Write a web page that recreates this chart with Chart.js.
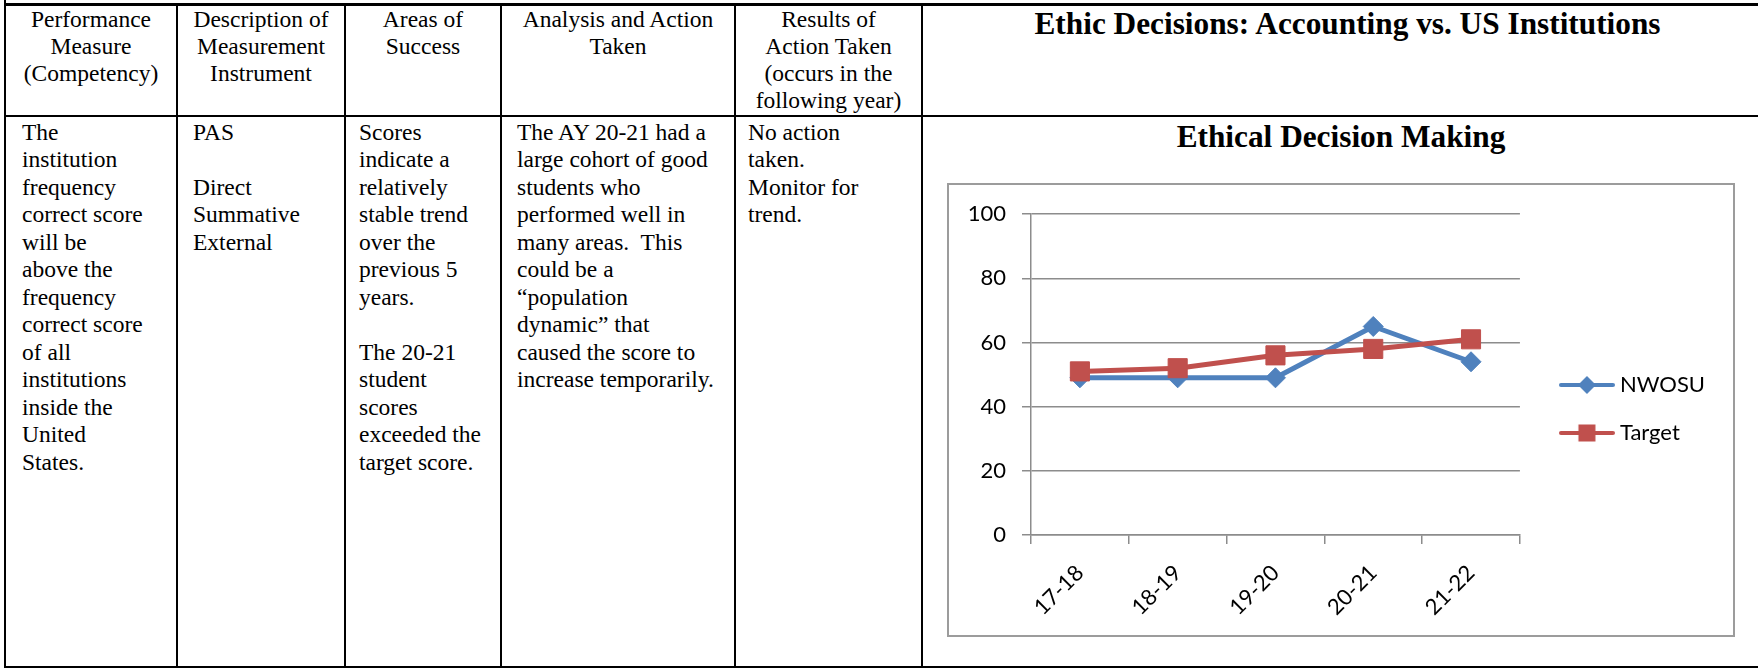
<!DOCTYPE html>
<html>
<head>
<meta charset="utf-8">
<title>Ethic Decisions: Accounting vs. US Institutions</title>
<script src="https://cdn.jsdelivr.net/npm/chart.js@4.4.1/dist/chart.umd.min.js"></script>
<style>
    html, body { margin: 0; padding: 0; background: #fff; }
    body {
        width: 1758px; height: 668px; overflow: hidden; position: relative;
        font-family: "Liberation Serif", "Times New Roman", serif; color: #000;
    }
    .prev-row-edge { position: absolute; left: 4px; top: 0; width: 2px; height: 4px; background: #000; }
    #assessment {
        position: absolute; left: 4px; top: 3px;
        border-collapse: collapse; table-layout: fixed; width: 1770px;
    }
    #assessment th, #assessment td {
        border: 2px solid #000; vertical-align: top;
        font-size: 23.5px; line-height: 27.5px; white-space: nowrap; overflow: hidden;
    }
    #assessment tr.head { height: 111px; }
    #assessment tr.body { height: 551.5px; }
    #assessment th { font-weight: normal; text-align: center; line-height: 27px; padding: 0 2px; border-top-width: 3px; }
    #assessment th.sheet-title { font-weight: bold; font-size: 31.3px; line-height: 36px; padding-top: 0; }
    #assessment td { text-align: left; padding: 2px 2px 0 15px; }
    #assessment td.c1 { padding-left: 16px; }
    #assessment td.c3 { padding-left: 13px; }
    #assessment td.c5 { padding-left: 12px; }
    #chart-title {
        position: absolute; left: 947px; width: 788px; top: 119px; text-align: center;
        font-weight: bold; font-size: 31.3px; line-height: 36px;
    }
    #chart-frame {
        position: absolute; left: 947px; top: 183px; width: 784px; height: 450px;
        border: 2px solid #9c9c9c; background: #fff;
    }
</style>
</head>
<body>
<div class="prev-row-edge"></div>
<table id="assessment">
    <colgroup>
        <col style="width:172px"><col style="width:168px"><col style="width:156px">
        <col style="width:234px"><col style="width:187px"><col style="width:851px">
    </colgroup>
    <tr class="head">
        <th>Performance<br>Measure<br>(Competency)</th>
        <th>Description of<br>Measurement<br>Instrument</th>
        <th>Areas of<br>Success</th>
        <th>Analysis and Action<br>Taken</th>
        <th>Results of<br>Action Taken<br>(occurs in the<br>following year)</th>
        <th class="sheet-title">Ethic Decisions: Accounting vs. US Institutions</th>
    </tr>
    <tr class="body">
        <td class="c1">The<br>institution<br>frequency<br>correct score<br>will be<br>above the<br>frequency<br>correct score<br>of all<br>institutions<br>inside the<br>United<br>States.</td>
        <td class="c2">PAS<br><br>Direct<br>Summative<br>External</td>
        <td class="c3">Scores<br>indicate a<br>relatively<br>stable trend<br>over the<br>previous 5<br>years.<br><br>The 20-21<br>student<br>scores<br>exceeded the<br>target score.</td>
        <td class="c4">The AY 20-21 had a<br>large cohort of good<br>students who<br>performed well in<br>many areas.&nbsp; This<br>could be a<br>“population<br>dynamic” that<br>caused the score to<br>increase temporarily.</td>
        <td class="c5">No action<br>taken.<br>Monitor for<br>trend.</td>
        <td></td>
    </tr>
</table>

<div id="chart-title">Ethical Decision Making</div>
<div id="chart-frame"><canvas id="ethicsChart"></canvas></div>

<script>
// Data
const categories = ['17-18', '18-19', '19-20', '20-21', '21-22'];
const nwosuScores = [49, 49, 49, 65, 54];
const targetScores = [51, 52, 56, 58, 61];
const yTicks = [0, 20, 40, 60, 80, 100];

const NWOSU_BLUE = '#4F81BD';
const TARGET_RED = '#C0504D';
const AXIS_GRAY = '#8c8c8c';
const LEGEND_LIFT = 14.5;

// Excel style legend glyph: a short line with the series marker on it
function makeLegendIcon(color, marker) {
    const icon = document.createElement('canvas');
    icon.width = 56;
    icon.height = 20;
    const ctx = icon.getContext('2d');
    ctx.strokeStyle = color;
    ctx.fillStyle = color;
    ctx.lineWidth = 4;
    ctx.lineCap = 'round';
    ctx.beginPath();
    ctx.moveTo(2, 10);
    ctx.lineTo(54, 10);
    ctx.stroke();
    if (marker === 'diamond') {
        ctx.beginPath();
        ctx.moveTo(28, 1);
        ctx.lineTo(37, 10);
        ctx.lineTo(28, 19);
        ctx.lineTo(19, 10);
        ctx.closePath();
        ctx.fill();
    } else {
        ctx.fillRect(19.5, 1.5, 17, 17);
    }
    return icon;
}

// Excel centres the legend a bit above the middle of the plot frame
const legendLift = {
    id: 'legendLift',
    afterLayout(chart) {
        chart.legend.top -= LEGEND_LIFT;
        chart.legend.bottom -= LEGEND_LIFT;
    }
};

function buildChart() {
    Chart.defaults.font.family = 'Lato, "Open Sans", sans-serif';
    Chart.defaults.font.size = 22;
    Chart.defaults.color = '#000';

    const ctx = document.getElementById('ethicsChart');

    new Chart(ctx.getContext('2d'), {
        type: 'line',
        plugins: [legendLift],
        data: {
            labels: categories,
            datasets: [{
                label: 'NWOSU',
                data: nwosuScores,
                borderColor: NWOSU_BLUE,
                backgroundColor: NWOSU_BLUE,
                borderWidth: 5,
                borderJoinStyle: 'round',
                borderCapStyle: 'round',
                pointStyle: 'rectRot',
                pointRadius: 10,
                pointHoverRadius: 10,
                pointBorderWidth: 1,
                tension: 0,
                order: 2,
                legendIcon: makeLegendIcon(NWOSU_BLUE, 'diamond')
            }, {
                label: 'Target',
                data: targetScores,
                borderColor: TARGET_RED,
                backgroundColor: TARGET_RED,
                borderWidth: 5,
                borderJoinStyle: 'round',
                borderCapStyle: 'round',
                pointStyle: 'rect',
                pointRadius: 13.5,
                pointHoverRadius: 13.5,
                pointBorderWidth: 1,
                tension: 0,
                order: 1,
                legendIcon: makeLegendIcon(TARGET_RED, 'square')
            }]
        },
        options: {
            responsive: true,
            maintainAspectRatio: false,
            animation: false,
            layout: { padding: { top: 27, right: 18, bottom: 0, left: 0 } },
            plugins: {
                title: { display: false },
                tooltip: { enabled: false },
                legend: {
                    position: 'right',
                    maxWidth: 300,
                    labels: {
                        usePointStyle: true,
                        pointStyleWidth: 44,
                        padding: 26,
                        color: '#000',
                        font: { size: 22 },
                        generateLabels: chart => chart.data.datasets.map((ds, i) => ({
                            text: ds.label,
                            pointStyle: ds.legendIcon,
                            fillStyle: ds.borderColor,
                            strokeStyle: ds.borderColor,
                            lineWidth: 0,
                            fontColor: '#000',
                            hidden: !chart.isDatasetVisible(i),
                            datasetIndex: i
                        }))
                    }
                }
            },
            scales: {
                x: {
                    offset: true,
                    grid: {
                        offset: true,
                        drawOnChartArea: false,
                        drawTicks: true,
                        tickLength: 9,
                        color: AXIS_GRAY,
                        lineWidth: 1.5
                    },
                    border: { color: AXIS_GRAY, width: 1.5 },
                    ticks: { minRotation: 45, maxRotation: 45, padding: 16, color: '#000' },
                    afterFit: scale => { scale.height = 100; }
                },
                y: {
                    min: yTicks[0],
                    max: yTicks[yTicks.length - 1],
                    afterBuildTicks: scale => { scale.ticks = yTicks.map(v => ({ value: v })); },
                    ticks: { padding: 16, color: '#000' },
                    grid: { color: AXIS_GRAY, lineWidth: 1.5, tickLength: 9 },
                    border: { color: AXIS_GRAY, width: 1.5 },
                    afterFit: scale => { scale.width = 82; }
                },
                // empty axis that only keeps a gap between plot and legend
                legendGap: {
                    type: 'linear',
                    position: 'right',
                    grid: { display: false },
                    ticks: { display: false },
                    border: { display: false },
                    afterFit: scale => { scale.width = 19; }
                }
            }
        }
    });
}

document.addEventListener('DOMContentLoaded', () => {
    document.fonts.load('22px Lato').then(buildChart, buildChart);
});
</script>
</body>
</html>
